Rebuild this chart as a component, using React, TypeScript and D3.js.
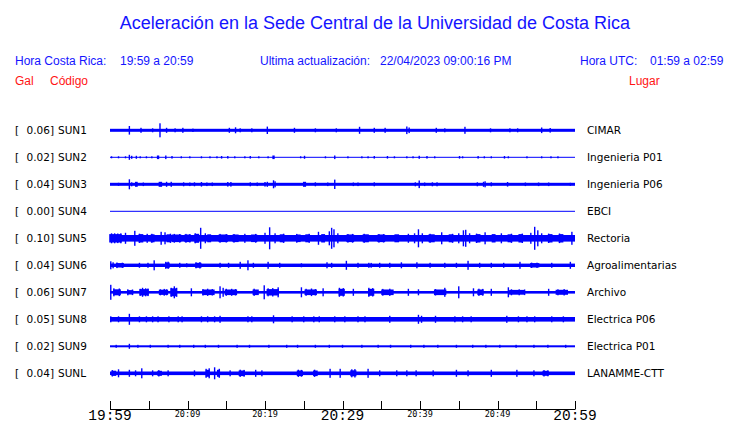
import React from "react";
import * as d3 from "d3";

const STATIONS = ["SUN1", "SUN2", "SUN3", "SUN4", "SUN5", "SUN6", "SUN7", "SUN8", "SUN9", "SUNL"];
const PEAK_GAL = [0.06, 0.02, 0.04, 0.0, 0.1, 0.04, 0.06, 0.05, 0.02, 0.04];
const PLACES = ["CIMAR", "Ingenieria P01", "Ingenieria P06", "EBCI", "Rectoria", "Agroalimentarias", "Archivo", "Electrica P06", "Electrica P01", "LANAMME-CTT"];
// background noise half-amplitude, Gal
const BASE_GAL = [0.015, 0.004, 0.015, 0, 0.033, 0.017, 0.013, 0.023, 0.01, 0.018];
// events: [minute after 19:59, half-amplitude Gal, duration minutes?]
const SUN1_EV = [[2.5,.043],[4.0,.025],[5.5,.02],[6.45,.07],[7.3,.025],[8.4,.02],[9.4,.025],[10.7,.017],[15.4,.025],[16.2,.03],[16.8,.02],[18.3,.02],[20.3,.037],[23.8,.025],[26.5,.02],[29.2,.02],[32.2,.035],[34.1,.025],[35.5,.025],[38.3,.038],[38.6,.028],[42.1,.025],[43.2,.02],[45.8,.035],[49.1,.02],[51.6,.02],[52.6,.02],[55.7,.028],[56.8,.023]];
const SUN2_EV = [[0.2,.01],[1.1,.01],[2.0,.01],[2.5,.025],[2.8,.015],[3.4,.015],[3.9,.01],[4.7,.01],[5.4,.01],[6.2,.018,0.3],[7.2,.018],[8.0,.013],[9.2,.01],[10.3,.01],[11.8,.01],[12.9,.01],[13.8,.01],[14.4,.013],[15.2,.013],[16.1,.01],[17.4,.01],[18.1,.013],[19.2,.01],[20.4,.01],[21.1,.018,0.3],[24.6,.01],[25.1,.015],[27.8,.01],[29.0,.018],[30.7,.01],[32.5,.01],[33.3,.01],[34.1,.013],[35.8,.013],[36.7,.01],[38.3,.01],[39.1,.01],[39.9,.015],[40.9,.013],[41.9,.01],[45.1,.013],[45.5,.01],[47.5,.013],[48.3,.01],[49.2,.01],[50.9,.013],[51.4,.01],[53.8,.01],[55.7,.01],[56.9,.01],[57.8,.01]];
const SUN3_EV = [[1.1,.015],[2.5,.05],[2.8,.02],[3.4,.025,0.35],[4.3,.018],[6.5,.025,0.45],[7.3,.025],[7.9,.025],[9.5,.02],[10.3,.018],[10.9,.02],[11.8,.023],[12.5,.018],[13.2,.018],[15.2,.023],[15.6,.023],[18.1,.02],[19.0,.018],[20.0,.023],[20.3,.025],[21.1,.04],[21.3,.03],[25.1,.025,0.4],[26.5,.02],[28.1,.018],[29.0,.047],[31.4,.018],[32.0,.018],[34.1,.02],[39.4,.02],[39.9,.038],[40.6,.018],[41.6,.02],[42.2,.02],[47.4,.02],[48.2,.025],[48.4,.03],[49.2,.02],[51.3,.023],[53.6,.018],[55.3,.018],[56.6,.018],[59.4,.015]];
const SUN4_EV: number[][] = [];
const SUN5_EV = [[0.7,.042,1.6],[0.2,.05],[0.6,.05],[1.0,.048],[1.4,.05],[2.0,.055],[3.2,.075],[4.0,.042,0.6],[3.8,.046],[4.8,.045],[5.5,.04,0.5],[5.4,.045],[6.6,.065],[7.1,.06],[7.6,.04,0.6],[7.8,.046],[8.6,.038,1.2],[8.3,.044],[9.0,.043],[10.0,.038,0.8],[9.8,.044],[10.3,.042],[11.2,.045,0.6],[11.0,.05],[11.7,.105],[12.3,.05],[12.8,.04,0.5],[14.6,.038,1.2],[14.2,.044],[15.0,.042],[16.2,.038,0.8],[16.0,.043],[17.4,.045],[18.6,.038,0.8],[18.8,.044],[20.0,.055],[20.6,.11],[21.3,.05],[22.2,.04,0.6],[22.4,.046],[24.3,.038,0.6],[24.1,.044],[25.5,.04,0.6],[25.7,.045],[26.9,.065],[27.5,.042,0.5],[28.3,.07],[28.6,.105],[28.9,.09],[29.4,.05],[31.0,.038,1.0],[30.7,.043],[31.3,.044],[33.0,.04,0.8],[32.8,.045],[35.0,.038,1.0],[34.7,.043],[35.3,.042],[37.0,.04,0.6],[38.5,.045],[39.3,.05],[39.8,.09],[40.3,.05],[41.5,.04,0.8],[41.3,.045],[42.8,.06],[44.0,.04,0.6],[44.2,.045],[45.0,.05],[45.6,.08],[45.9,.085],[46.4,.05],[47.5,.042,0.6],[47.3,.047],[48.4,.06],[49.5,.042,0.5],[50.5,.05],[51.6,.04,0.6],[51.8,.046],[53.0,.042,0.6],[53.2,.047],[54.3,.055],[54.8,.115],[55.2,.08],[55.7,.05],[56.8,.042,0.6],[56.6,.047],[58.2,.042,0.6],[58.0,.048],[59.6,.065]];
const SUN6_EV = [[0.1,.04],[0.4,.03],[1.3,.022,1.0],[0.9,.028],[1.6,.026],[3.8,.025],[4.9,.025],[5.7,.05],[7.4,.028,0.6],[7.2,.035],[7.5,.036],[9.0,.025],[9.9,.02],[11.4,.025,0.8],[11.1,.03],[11.6,.032],[14.2,.025],[15.3,.025],[16.8,.035],[17.8,.05],[18.5,.025],[20.4,.035],[21.9,.025],[24.7,.02],[28.0,.03],[28.6,.025],[30.5,.045],[32.0,.025],[33.4,.025],[33.7,.024],[34.8,.025],[36.1,.025],[37.6,.03],[39.6,.03],[41.3,.025],[43.2,.025],[44.7,.025],[46.2,.045],[47.7,.025],[49.2,.025],[50.8,.025],[52.9,.035],[54.8,.022,1.2],[54.4,.027],[55.1,.026],[57.0,.025],[59.4,.035]];
const SUN7_EV = [[0.9,.03,1.0],[2.6,.022,0.8],[4.4,.032,1.2],[6.9,.026,1.2],[8.2,.04,0.8],[12.7,.028,1.6],[15.6,.028,1.6],[18.8,.028,0.8],[21.0,.032,1.6],[25.9,.028,1.6],[29.9,.035,0.8],[33.7,.035,0.8],[35.8,.028,1.6],[42.6,.028,1.6],[47.8,.028,0.8],[52.5,.024,2.0],[58.3,.025,1.6],[0.1,.075],[0.5,.04],[1.2,.038],[2.3,.03],[2.9,.028],[3.9,.035],[4.2,.045],[4.6,.04],[4.9,.038],[6.5,.03],[7.0,.034],[7.3,.03],[7.9,.045],[8.3,.06],[8.6,.045],[10.5,.04],[12.0,.032],[12.6,.036],[13.2,.032],[14.2,.06],[14.6,.045],[15.0,.035],[15.7,.035],[16.2,.032],[18.6,.036],[19.9,.07],[20.4,.04],[21.0,.042],[21.7,.05],[24.7,.05],[25.3,.035],[26.0,.038],[26.5,.032],[27.5,.04],[29.6,.045],[30.1,.042],[31.4,.035],[33.4,.045],[33.9,.042],[35.2,.034],[36.1,.036],[38.5,.035],[39.8,.03],[42.0,.032],[43.2,.045],[45.0,.06],[46.9,.04],[47.6,.036],[48.1,.034],[49.2,.035],[51.4,.05],[51.8,.03],[52.8,.03],[53.5,.028],[56.6,.035],[57.8,.03],[58.6,.032]];
const SUN8_EV = [[0.1,.03],[1.1,.03],[2.5,.055],[3.8,.03],[4.7,.03],[5.5,.03],[6.2,.03],[7.6,.03],[8.8,.03],[9.3,.03],[11.8,.03],[12.6,.03],[13.5,.03],[14.2,.035],[17.8,.03],[18.3,.03],[21.1,.04],[23.5,.03],[25.0,.03],[26.3,.03],[27.0,.03],[29.0,.03],[30.3,.03],[32.0,.03],[32.9,.03],[36.1,.035],[39.8,.045],[40.2,.035],[42.0,.035],[44.5,.03],[45.5,.03],[46.6,.03],[51.2,.035],[52.7,.03],[53.8,.03],[54.8,.03],[57.0,.03],[58.5,.03]];
const SUN9_EV = [[2.5,.025],[0.8,.015],[3.6,.015],[5.2,.015],[7.5,.015],[9.0,.015],[10.8,.015],[12.3,.015],[14.0,.015],[16.4,.015],[18.0,.015],[20.5,.015],[22.8,.015],[24.2,.015],[26.5,.015],[28.3,.015],[30.0,.015],[32.5,.015],[34.6,.015],[36.2,.015],[38.8,.015],[40.5,.015],[42.3,.015],[44.7,.015],[46.8,.015],[48.5,.015],[50.3,.015],[52.4,.015],[54.7,.015],[56.5,.015],[58.8,.015]];
const SUNL_EV = [[0.5,.026,0.6],[0.3,.032],[1.1,.04],[2.5,.035],[3.3,.03],[4.1,.05],[5.5,.03],[6.4,.025,0.6],[6.3,.032],[7.5,.03],[10.9,.03],[12.6,.035,0.5],[12.4,.045],[12.8,.05],[13.5,.06],[14.0,.035,0.4],[14.1,.045],[15.5,.03],[17.0,.028,0.8],[16.8,.036],[17.3,.034],[18.8,.035],[19.6,.03],[24.5,.028,0.8],[24.3,.036],[24.7,.034],[26.5,.028,0.6],[26.4,.036],[28.4,.045],[29.7,.045],[31.4,.03,0.8],[31.2,.04],[31.6,.042],[33.3,.045],[34.8,.03],[37.0,.03],[38.3,.03],[39.5,.03],[41.7,.03],[44.7,.035],[46.2,.03],[49.2,.035],[52.5,.035],[54.7,.03],[56.2,.025,0.8],[56.0,.032],[56.5,.03]];
const EVENTS = [SUN1_EV, SUN2_EV, SUN3_EV, SUN4_EV, SUN5_EV, SUN6_EV, SUN7_EV, SUN8_EV, SUN9_EV, SUNL_EV];

const TICK_MINUTES = [0, 5, 10, 15, 20, 25, 30, 35, 40, 45, 50, 55, 60];
const MAJOR_LABELS = [[0, "19:59"], [30, "20:29"], [60, "20:59"]];
const MINOR_LABELS = [[10, "20:09"], [20, "20:19"], [40, "20:39"], [50, "20:49"]];

const BLUE = "#0000ff";
const HDR = "#1414ff";

export default function App() {
  const W = 740, H = 423;
  const x = d3.scaleLinear().domain([0, 60]).range([110, 575]);
  const row = d3.scalePoint<string>().domain(STATIONS).range([130.3, 373.3]);
  const amp = d3.scaleLinear().domain([0, 0.135]).range([0, 13.5]);
  const sans = "'Liberation Sans', Arial, sans-serif";
  const dv = "'DejaVu Sans', sans-serif";
  const mono = "'Liberation Mono', monospace";
  const dmono = "'DejaVu Sans Mono', monospace";

  return (
    <svg width={W} height={H} style={{ position: "absolute", left: 0, top: 0, background: "#fff" }}>
      <rect width={W} height={H} fill="#fff" />
      <text x={375} y={29} textAnchor="middle" fontFamily={sans} fontSize={18} fill={HDR}>
        Aceleración en la Sede Central de la Universidad de Costa Rica
      </text>
      <g fontFamily={sans} fontSize={12} fill={HDR}>
        <text x={15} y={65}>Hora Costa Rica:</text>
        <text x={120} y={65}>19:59 a 20:59</text>
        <text x={260} y={65}>Ultima actualización:</text>
        <text x={380} y={65}>22/04/2023 09:00:16 PM</text>
        <text x={580} y={65}>Hora UTC:</text>
        <text x={650} y={65}>01:59 a 02:59</text>
      </g>
      <g fontFamily={sans} fontSize={12} fill="#ff1414">
        <text x={15} y={85}>Gal</text>
        <text x={50} y={85}>Código</text>
        <text x={629} y={85}>Lugar</text>
      </g>

      {STATIONS.map((s, i) => {
        const cy = row(s)!;
        const base = Math.max(amp(BASE_GAL[i]), 0.5);
        return (
          <g key={s}>
            <g fontFamily={dv} fontSize={10.5} fill="#000">
              <text x={15} y={cy + 4}>[</text>
              <text x={54} y={cy + 4} textAnchor="end">{PEAK_GAL[i].toFixed(2) + "]"}</text>
              <text x={58} y={cy + 4}>{s}</text>
              <text x={587} y={cy + 4}>{PLACES[i]}</text>
            </g>
            <rect x={x(0)} width={x(60) - x(0)} y={cy - base} height={base * 2} fill={BLUE} />
            {EVENTS[i].map((e, k) => {
              const dur = e[2] ?? 0;
              const a = amp(e[1]);
              if (dur > 0) {
                const x0 = x(e[0] - dur / 2);
                return <rect key={k} x={x0} width={x(e[0] + dur / 2) - x0} y={cy - a} height={a * 2} fill={BLUE} />;
              }
              return <rect key={k} x={x(e[0]) - 0.7} width={1.4} y={cy - a} height={a * 2} fill={BLUE} />;
            })}
          </g>
        );
      })}

      <g stroke="#000" strokeWidth={1} fill="none">
        <line x1={x(0)} x2={x(60)} y1={409.5} y2={409.5} />
        {TICK_MINUTES.map((m) => (
          <line key={m} x1={Math.round(x(m)) + 0.5} x2={Math.round(x(m)) + 0.5} y1={401} y2={409.5} />
        ))}
      </g>
      <g fill="#000" textAnchor="middle">
        {MAJOR_LABELS.map(([m, t]) => (
          <text key={t as string} x={x(m as number)} y={420} fontSize={14.5} fontFamily={mono}>{t}</text>
        ))}
        {MINOR_LABELS.map(([m, t]) => (
          <text key={t as string} x={x(m as number)} y={416.5} fontSize={8.5} fontFamily={dmono}>{t}</text>
        ))}
      </g>
    </svg>
  );
}
